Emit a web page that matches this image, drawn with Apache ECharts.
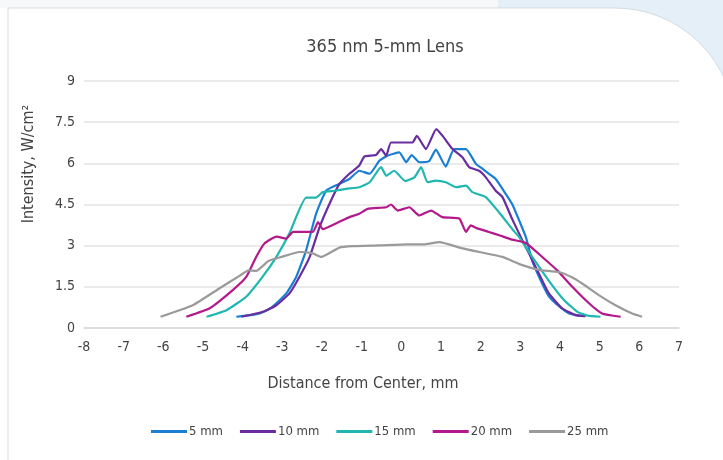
<!DOCTYPE html>
<html>
<head>
<meta charset="utf-8">
<script src="https://cdn.jsdelivr.net/npm/echarts@6/dist/echarts.min.js"></script>
<style>
  html, body { margin: 0; padding: 0; background: #ffffff; }
  #chart { width: 723px; height: 460px; }
</style>
</head>
<body>
<div id="chart"></div>
<script>
// ---- Data ----
const chartTitle = '365 nm 5-mm Lens';
const xAxisTitle = 'Distance from Center, mm';
const yAxisTitle = 'Intensity, W/cm²';
const seriesNames = ['5 mm', '10 mm', '15 mm', '20 mm', '25 mm'];
const seriesColors = ['#1a7fd3', '#6a2d9f', '#1fb7b0', '#b4198b', '#9a9a9a'];

const mm5 = [[-4.16,0.41],[-3.8,0.47],[-3.57,0.53],[-3.3,0.72],[-3.15,0.9],[-2.9,1.26],[-2.65,1.86],[-2.4,2.83],[-2.15,4.16],[-1.9,5.0],[-1.64,5.2],[-1.31,5.43],[-1.06,5.73],[-0.8,5.62],[-0.55,6.1],[-0.35,6.28],[-0.05,6.4],[0.12,6.04],[0.26,6.3],[0.45,6.04],[0.7,6.08],[0.87,6.5],[1.12,5.88],[1.33,6.52],[1.63,6.52],[1.88,5.98],[2.05,5.8],[2.21,5.62],[2.38,5.43],[2.63,4.89],[2.8,4.5],[2.97,3.92],[3.14,3.31],[3.3,2.45],[3.55,1.62],[3.72,1.15],[3.89,0.9],[4.23,0.53],[4.6,0.43]];
const mm10 = [[-4.03,0.41],[-3.49,0.59],[-3.15,0.83],[-2.82,1.26],[-2.57,1.86],[-2.31,2.59],[-2.06,3.68],[-1.81,4.53],[-1.56,5.25],[-1.31,5.62],[-1.06,5.92],[-0.93,6.25],[-0.64,6.3],[-0.51,6.52],[-0.38,6.28],[-0.26,6.76],[0.28,6.76],[0.39,7.0],[0.62,6.52],[0.88,7.25],[1.04,7.0],[1.29,6.52],[1.54,6.22],[1.71,5.86],[1.96,5.73],[2.13,5.49],[2.38,5.0],[2.55,4.77],[2.8,3.95],[3.05,3.2],[3.22,2.71],[3.47,1.98],[3.72,1.26],[4.06,0.71],[4.39,0.47],[4.65,0.43]];
const mm15 = [[-4.91,0.41],[-4.41,0.65],[-3.91,1.14],[-3.5,1.86],[-3.15,2.59],[-2.82,3.45],[-2.4,4.75],[-2.15,4.75],[-1.98,4.95],[-1.69,5.0],[-1.39,5.07],[-1.06,5.13],[-0.8,5.31],[-0.51,5.86],[-0.38,5.55],[-0.18,5.73],[0.1,5.35],[0.33,5.49],[0.5,5.86],[0.66,5.31],[0.87,5.37],[1.12,5.31],[1.38,5.13],[1.63,5.19],[1.79,4.95],[2.13,4.77],[2.47,4.2],[2.8,3.6],[2.97,3.31],[3.3,2.59],[3.72,1.72],[4.1,1.02],[4.45,0.58],[4.7,0.45],[5.02,0.41]];
const mm20 = [[-5.42,0.41],[-4.83,0.72],[-4.25,1.38],[-3.91,1.86],[-3.66,2.59],[-3.45,3.08],[-3.15,3.33],[-2.9,3.26],[-2.73,3.5],[-2.23,3.5],[-2.1,3.86],[-1.98,3.6],[-1.6,3.84],[-1.31,4.04],[-1.06,4.16],[-0.85,4.34],[-0.38,4.4],[-0.26,4.5],[-0.09,4.28],[0.2,4.4],[0.45,4.1],[0.75,4.28],[1.03,4.04],[1.46,3.99],[1.63,3.5],[1.75,3.74],[1.91,3.63],[2.21,3.5],[2.47,3.38],[2.79,3.22],[3.14,3.1],[3.55,2.59],[3.93,2.1],[4.31,1.5],[4.73,0.9],[5.06,0.53],[5.53,0.41]];
const mm25 = [[-6.07,0.41],[-5.26,0.83],[-4.58,1.45],[-4.08,1.9],[-3.85,2.1],[-3.66,2.08],[-3.35,2.44],[-3.0,2.6],[-2.57,2.77],[-2.23,2.72],[-2.02,2.59],[-1.56,2.93],[-1.22,2.98],[-0.55,3.01],[0.16,3.05],[0.6,3.05],[0.96,3.13],[1.54,2.9],[1.96,2.77],[2.55,2.59],[3.05,2.29],[3.47,2.12],[3.97,2.04],[4.3,1.85],[4.56,1.62],[4.98,1.2],[5.4,0.83],[5.82,0.53],[6.07,0.41]];
const allSeries = [mm5, mm10, mm15, mm20, mm25];

const xMin = -8, xMax = 7, xStep = 1;
const yMin = 0, yMax = 9, yStep = 1.5;

// ---- Chart ----
const FONT = "'Liberation Sans Narrow', 'DejaVu Sans Condensed', 'Roboto', sans-serif";
const TXT = '#444444';
const chart = echarts.init(document.getElementById('chart'), null, { renderer: 'canvas' });

const option = {
  backgroundColor: '#ffffff',
  animation: false,
  textStyle: { fontFamily: FONT, color: TXT },
  graphic: [
    { type: 'rect', z: -10, silent: true, shape: { x: 0, y: 0, width: 723, height: 8 }, style: { fill: '#f7f8f9' } },
    { type: 'rect', z: -9, silent: true, shape: { x: 498, y: 0, width: 225, height: 200 }, style: { fill: '#e4eff8' } },
    { type: 'rect', z: -8, silent: true, shape: { x: 8, y: 8, width: 727, height: 470, r: [0, 120, 0, 0] }, style: { fill: '#ffffff', stroke: '#d3dbe2', lineWidth: 1 } },
    { type: 'text', silent: true, x: 29, y: 164, rotation: Math.PI / 2,
      style: { text: yAxisTitle, fill: TXT, font: "16px " + FONT, textAlign: 'center', textVerticalAlign: 'middle' } },
    { type: 'text', silent: true, x: 363, y: 384,
      style: { text: xAxisTitle, fill: TXT, font: "16px " + FONT, textAlign: 'center', textVerticalAlign: 'middle' } }
  ],
  title: {
    text: chartTitle,
    left: 380, top: 33, textAlign: 'center',
    textStyle: { fontFamily: FONT, fontSize: 18, fontWeight: 'normal', color: TXT }
  },
  legend: {
    data: seriesNames,
    bottom: 17, left: 146,
    icon: 'rect', itemWidth: 36, itemHeight: 3, itemGap: 17,
    textStyle: { fontFamily: FONT, fontSize: 13, color: TXT, padding: [0, 0, 0, -3] }
  },
  grid: { left: 84, right: 44, top: 81, bottom: 132, containLabel: false },
  xAxis: {
    type: 'value', min: xMin, max: xMax, interval: xStep,
    axisLine: { show: true, lineStyle: { color: '#d9d9d9', width: 1.5 } },
    axisTick: { show: false },
    splitLine: { show: false },
    axisLabel: { fontFamily: FONT, fontSize: 14, color: TXT, margin: 12 }
  },
  yAxis: {
    type: 'value', min: yMin, max: yMax, interval: yStep,
    axisLine: { show: false },
    axisTick: { show: false },
    splitLine: { lineStyle: { color: '#e5e5e5', width: 1.5 } },
    axisLabel: { fontFamily: FONT, fontSize: 14, color: TXT, margin: 9 }
  },
  series: allSeries.map((d, i) => ({
    name: seriesNames[i], type: 'line', data: d,
    symbol: 'none', smooth: 0.15,
    lineStyle: { color: seriesColors[i], width: 2.2 },
    itemStyle: { color: seriesColors[i] }
  }))
};
chart.setOption(option);
</script>
</body>
</html>
